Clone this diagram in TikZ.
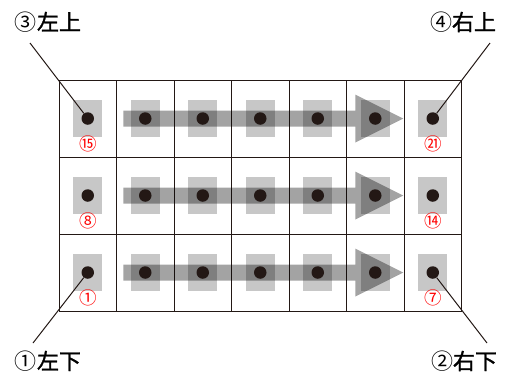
\documentclass[tikz,border=0pt]{standalone}
\usepackage{fontspec}
\usetikzlibrary{calc}
\newfontfamily\jpfont{Noto Sans CJK JP}
\newfontfamily\jpbold[FakeBold=1.3]{Noto Sans CJK JP}
\definecolor{ink}{HTML}{231815}
\begin{document}
\begin{tikzpicture}[
	x=1pt, y=-1pt,
	% Define the styles for the cells
	gridline/.style={ink, line width=1pt},
	pad/.style={fill=black!22, minimum width=29pt, minimum height=37pt, inner sep=0pt},
	dot/.style={circle, fill=ink, inner sep=0pt, minimum size=12.5pt},
	num/.style={text=red, font=\jpfont\fontsize{17.5}{17.5}\selectfont, inner sep=0pt},
	lbl/.style={font=\jpbold\fontsize{22}{22}\selectfont, inner sep=0pt},
	flow/.style={fill=black, opacity=0.36}
	]
	\useasboundingbox (0,0) rectangle (509,376);
	
	% --- GRID ---
	\foreach \i in {0,...,7}
		\draw[gridline] ({59+57.5*\i},80) -- ({59+57.5*\i},311);
	\foreach \j in {0,...,3}
		\draw[gridline] (59,{80+77*\j}) -- (461.5,{80+77*\j});
	
	% --- PADS ---
	\foreach \r in {1,2,3}
		\foreach \c in {1,...,7}
			\node[pad] (p-\r-\c) at ({87.75+57.5*(\c-1)},{118.5+77*(\r-1)}) {};
	
	% --- ARROWS ---
	\foreach \r in {1,2,3}
		\fill[flow] ($(p-\r-2)+(-22,-8)$) -- ++(232,0) -- ++(0,-16) -- ++(48,24)
			-- ++(-48,24) -- ++(0,-16) -- ++(-232,0) -- cycle;
	
	% --- DOTS ---
	\foreach \r in {1,2,3}
		\foreach \c in {1,...,7}
			\node[dot] (d-\r-\c) at (p-\r-\c) {};
	
	% --- NUMBERS ---
	\node[num] (n15) at ($(d-1-1)+(0,25)$) {⑮};
	\node[num] (n21) at ($(d-1-7)+(0,25)$) {㉑};
	\node[num] (n8)  at ($(d-2-1)+(0,25)$) {⑧};
	\node[num] (n14) at ($(d-2-7)+(0,25)$) {⑭};
	\node[num] (n1)  at ($(d-3-1)+(0,25)$) {①};
	\node[num] (n7)  at ($(d-3-7)+(0,25)$) {⑦};
	
	% --- CORNER LABELS ---
	\node[lbl] (lbl3) at (48,22)  {{\jpfont ③}左上};
	\node[lbl] (lbl4) at (463,22) {{\jpfont ④}右上};
	\node[lbl] (lbl1) at (48,361) {{\jpfont ①}左下};
	\node[lbl] (lbl2) at (464,361) {{\jpfont ②}右下};
	
	\coordinate (t3) at (30,43);
	\coordinate (t4) at (490,43);
	\coordinate (t1) at (33,343);
	\coordinate (t2) at (487,343);
	
	\draw[ink, line width=1pt] (t3) -- (d-1-1);
	\draw[ink, line width=1pt] (t4) -- (d-1-7);
	\draw[ink, line width=1pt] (t1) -- (d-3-1);
	\draw[ink, line width=1pt] (t2) -- (d-3-7);
	
\end{tikzpicture}
\end{document}
